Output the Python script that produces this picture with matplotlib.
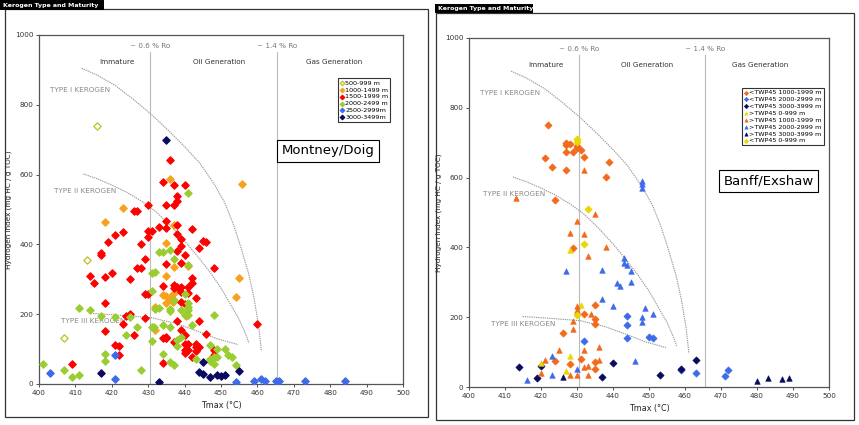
import matplotlib
matplotlib.use("Agg")
import matplotlib.pyplot as plt
from matplotlib.patches import Rectangle

# ---------------- data ----------------
x_ticks = [400, 410, 420, 430, 440, 450, 460, 470, 480, 490, 500]
y_ticks = [0, 200, 400, 600, 800, 1000]
zone_names = ["Immature", "Oil Generation", "Gas Generation"]
zone_x = [421.5, 449.5, 481]
ro_names = ["~ 0.6 % Ro", "~ 1.4 % Ro"]
ro_x = [430.5, 465.5]

type1_T = [411.7, 416, 421, 426, 431, 436, 440, 444, 448, 451, 453.5, 455.5, 457.5, 459, 460.3, 461.1]
type1_HI = [905, 885, 855, 815, 771, 722, 680, 635, 575, 520, 455, 390, 320, 250, 170, 96]
type2_T = [412.2, 416, 420, 424, 428, 432, 436, 440, 444, 447, 450, 452.5, 455, 456.5, 457.7]
type2_HI = [602, 588, 570, 550, 525, 495, 455, 410, 360, 320, 275, 230, 185, 150, 117]
type3_T = [414.9, 422.2, 430.9, 437.8, 444.2, 448.8, 454.7]
type3_HI = [202, 197, 190, 173, 149, 130, 113]
type_labels = ["TYPE I KEROGEN", "TYPE II KEROGEN", "TYPE III KEROGEN"]

# Montney/Doig
m_labels = ["500-999 m", "1000-1499 m", "1500-1999 m", "2000-2499 m", "2500-2999m", "3000-3499m"]
m500_T = [416.0, 413.1, 407.0]
m500_HI = [738, 355, 133]
m1000_T = [436.0, 455.9, 423.0, 418.0, 434.9, 437.0, 441.0, 437.8, 436.9, 434.9, 434.1, 435.0,
           436.0, 436.9, 435.0, 440.3, 432.0, 431.9, 454.9, 454.0, 437.0]
m1000_HI = [588, 573, 505, 463, 404, 334, 337, 269, 257, 310, 255, 253,
            244, 236, 231, 194, 221, 154, 305, 250, 455]
m1500_T = [436, 434, 437, 440, 438, 430, 435, 437, 438, 426, 427, 421, 423, 419, 417, 417, 414, 415,
           418, 420, 425, 427, 428, 428, 429, 430, 431, 430, 433, 435, 435, 438, 438, 439, 439, 438,
           440, 439, 435, 442, 444, 445, 446, 448, 460, 444, 442, 442, 443, 441, 441, 439, 439, 438,
           437, 437, 434, 429, 430, 439, 440, 438, 439, 440, 435, 435, 437, 440, 440, 440, 441, 441,
           443, 443, 444, 443, 442, 446, 448, 448, 409, 418, 418, 421, 422, 422, 423, 424, 425, 429,
           426, 434, 435, 434]
m1500_HI = [641, 578, 570, 569, 538, 514, 514, 512, 524, 497, 497, 428, 435, 408, 375, 370, 309, 288,
            306, 319, 302, 332, 332, 401, 359, 438, 438, 422, 450, 447, 468, 455, 430, 416, 396, 382,
            370, 348, 344, 445, 389, 411, 407, 332, 171, 181, 303, 288, 247, 277, 260, 277, 264, 279,
            284, 274, 282, 258, 257, 234, 228, 181, 154, 139, 135, 131, 120, 115, 96, 89, 115, 96,
            115, 106, 106, 94, 77, 144, 98, 82, 58, 231, 151, 111, 108, 84, 171, 194, 202, 189,
            139, 133, 133, 60]
m2000_T = [441, 436, 434, 433, 437, 441, 448, 440, 441, 441, 441, 431, 432, 431, 437, 436, 436, 439,
           440, 441, 442, 432, 433, 431, 431.5, 431, 434, 436, 438, 438, 439, 443, 447, 449, 448, 449,
           447, 447, 451, 452, 453, 448, 454, 401, 407, 409, 411, 411, 414, 417, 418, 418, 428, 421,
           425, 424, 427, 434, 436, 437]
m2000_HI = [546, 383, 378, 377, 359, 341, 199, 257, 231, 221, 212, 267, 322, 319, 240, 216, 208, 212,
            197, 197, 168, 216, 219, 162, 163, 123, 168, 163, 125, 108, 135, 72, 111, 101, 77, 77,
            72, 67, 101, 82, 77, 58, 55, 58, 40, 21, 26, 218, 212, 195, 85, 67, 40, 192,
            192, 139, 162, 87, 64, 54]
m2500_T = [403, 421, 421, 454, 459, 461, 462, 465, 466, 473, 484]
m2500_HI = [31, 13, 82, 7, 10, 13, 9, 8, 10, 10, 10]
m3000_T = [435, 455, 445, 444, 445, 447, 449, 450, 451, 433, 417]
m3000_HI = [700, 38, 64, 34, 29, 19, 27, 24, 27, 7, 32]

# Banff/Exshaw
b_labels = ["<TWP45 1000-1999 m", "<TWP45 2000-2999 m", "<TWP45 3000-3999 m", ">TWP45 0-999 m",
            ">TWP45 1000-1999 m", ">TWP45 2000-2999 m", ">TWP45 3000-3999 m", "<TWP45 0-999 m"]
b_lt1000_T = [422, 427, 427, 428, 430, 430, 431, 427, 429, 432, 421, 423, 427, 439, 438, 424, 429,
              435, 432, 435, 435, 426, 424, 431, 435, 435, 428]
b_lt1000_HI = [750, 700, 693, 697, 690, 684, 679, 672, 672, 660, 655, 630, 623, 646, 601, 537, 398,
               234, 208, 196, 181, 155, 75, 79, 73, 53, 67]
b_lt2000_T = [444, 444, 444, 450, 451, 432, 459, 463, 471, 472]
b_lt2000_HI = [203, 179, 140, 143, 141, 132, 48, 39, 32, 48]
b_lt3000_T = [414, 420, 440, 419, 437, 453, 459, 463]
b_lt3000_HI = [56, 60, 69, 27, 30, 34, 53, 77]
b_gt0_T = [428, 428, 420, 427, 431]
b_gt0_HI = [393, 90, 70, 46, 236]
b_gt1000_T = [432, 413, 435, 430, 428, 432, 438, 433, 430, 430, 430, 434, 429, 429, 425, 432, 436,
              421, 432, 433, 436, 420, 428, 430, 433]
b_gt1000_HI = [621, 541, 496, 475, 441, 439, 400, 374, 231, 220, 217, 208, 189, 167, 107, 106, 114,
               77, 56, 59, 77, 39, 34, 35, 35]
b_gt2000_T = [448, 448, 448, 427, 443, 443, 444, 445, 445, 437, 441, 442, 437, 440, 449, 451, 448,
              448, 446, 430, 423, 416, 423]
b_gt2000_HI = [590, 581, 571, 333, 371, 355, 350, 333, 301, 335, 299, 289, 251, 233, 225, 210, 202,
               185, 75, 53, 88, 20, 34]
b_gt3000_T = [426, 480, 483, 487, 489]
b_gt3000_HI = [30, 17, 27, 24, 27]
b_lt0_T = [430, 430, 433, 432, 430]
b_lt0_HI = [711, 702, 510, 410, 205]

# ---------------- styling ----------------
YEL = "#E8D800"
ORA = "#F7A21B"
RED = "#FF0000"
GRN = "#9ACD32"
BLU = "#3D6BE8"
NAV = "#0A0A60"
ORR = "#F26A1B"
FS = 5.2
LFS = 4.6

fig = plt.figure(figsize=(8.59, 4.25), dpi=100)
W, H = 859.0, 425.0


def fig_rect(x0, y0, x1, y1, **kw):
    r = Rectangle((x0 / W, 1 - y1 / H), (x1 - x0) / W, (y1 - y0) / H,
                  transform=fig.transFigure, **kw)
    fig.patches.append(r)


def title_bar(x0, y0, x1, y1):
    fig_rect(x0, y0, x1, y1, facecolor="black", edgecolor="none")
    fig.text((x0 + 3) / W, 1 - (y0 + y1) / 2 / H, "Kerogen Type and Maturity", color="white",
             fontsize=4.5, fontweight="bold", va="center", ha="left")


def setup_axes(ax):
    ax.set_xlim(400, 500)
    ax.set_ylim(0, 1000)
    ax.set_xticks(x_ticks)
    ax.set_yticks(y_ticks)
    ax.tick_params(labelsize=FS, length=2, width=0.6, colors="#333333", pad=2)
    for s in ax.spines.values():
        s.set_color("#555555")
        s.set_linewidth(0.9)
    ax.set_xlabel("Tmax (°C)", fontsize=FS + 0.6, labelpad=4, color="#222222")
    ax.set_ylabel("Hydrogen Index (mg HC / g TOC)", fontsize=FS, labelpad=2, color="#222222")
    for x in ro_x:
        ax.plot([x, x], [0, 950], color="#BBBBBB", lw=0.8, zorder=1)
    for name, x in zip(ro_names, ro_x):
        ax.text(x, 968, name, fontsize=FS, color="#777777", ha="center", va="center")
    for name, x in zip(zone_names, zone_x):
        ax.text(x, 922, name, fontsize=FS, color="#333333", ha="center", va="center")
    for T, HI in [(type1_T, type1_HI), (type2_T, type2_HI), (type3_T, type3_HI)]:
        ax.plot(T, HI, color="#999999", lw=0.8, ls=(0, (1.2, 0.8)), zorder=1)
    ax.text(403, 843, type_labels[0], fontsize=FS, color="#888888", va="center")
    ax.text(404, 554, type_labels[1], fontsize=FS, color="#888888", va="center")
    ax.text(406, 180, type_labels[2], fontsize=FS, color="#888888", va="center")


def legend(ax, anchor):
    leg = ax.legend(loc="upper left", bbox_to_anchor=anchor, fontsize=LFS, frameon=True,
                    fancybox=False, edgecolor="black", handletextpad=0.05, borderpad=0.3,
                    labelspacing=0.22, handlelength=0.8, markerscale=0.6, borderaxespad=0)
    leg.get_frame().set_linewidth(0.8)
    return leg


# ---------------- left panel ----------------
fig_rect(5, 9, 428, 417, facecolor="none", edgecolor="#333333", lw=0.9)
title_bar(0, 0, 104, 10)
axL = fig.add_axes([39 / W, 1 - 384 / H, 364 / W, 349 / H])
setup_axes(axL)
ms = 14
left_series = [
    (m500_T, m500_HI, "white", "#BFC020"),
    (m1000_T, m1000_HI, ORA, ORA),
    (m1500_T, m1500_HI, RED, RED),
    (m2000_T, m2000_HI, GRN, GRN),
    (m2500_T, m2500_HI, BLU, BLU),
    (m3000_T, m3000_HI, NAV, NAV),
]
for (T, HI, fc, ec), lab in zip(left_series, m_labels):
    axL.scatter(T, HI, s=ms, marker="D", facecolor=fc, edgecolor=ec, linewidths=0.9,
                label=lab, zorder=3)
legend(axL, (0.821, 0.876))
axL.text(0.794, 0.668, "Montney/Doig", transform=axL.transAxes, fontsize=9.5, ha="center",
         va="center", bbox=dict(boxstyle="square,pad=0.33", facecolor="white", edgecolor="black",
                                lw=0.8))

# ---------------- right panel ----------------
fig_rect(436, 13, 854, 420, facecolor="none", edgecolor="#333333", lw=0.9)
title_bar(435, 4, 533, 13)
axR = fig.add_axes([469 / W, 1 - 387 / H, 360 / W, 349 / H])
setup_axes(axR)
right_series = [
    (b_lt1000_T, b_lt1000_HI, "D", ORR),
    (b_lt2000_T, b_lt2000_HI, "D", BLU),
    (b_lt3000_T, b_lt3000_HI, "D", NAV),
    (b_gt0_T, b_gt0_HI, "^", YEL),
    (b_gt1000_T, b_gt1000_HI, "^", ORR),
    (b_gt2000_T, b_gt2000_HI, "^", BLU),
    (b_gt3000_T, b_gt3000_HI, "^", NAV),
    (b_lt0_T, b_lt0_HI, "D", YEL),
]
for (T, HI, mk, c), lab in zip(right_series, b_labels):
    axR.scatter(T, HI, s=16 if mk == "^" else ms, marker=mk, color=c, label=lab, zorder=3,
                linewidths=0.4)
legend(axR, (0.758, 0.857))
axR.text(0.833, 0.590, "Banff/Exshaw", transform=axR.transAxes, fontsize=9.5, ha="center",
         va="center", bbox=dict(boxstyle="square,pad=0.33", facecolor="white", edgecolor="black",
                                lw=0.8))

fig.savefig("out.png", dpi=100)
